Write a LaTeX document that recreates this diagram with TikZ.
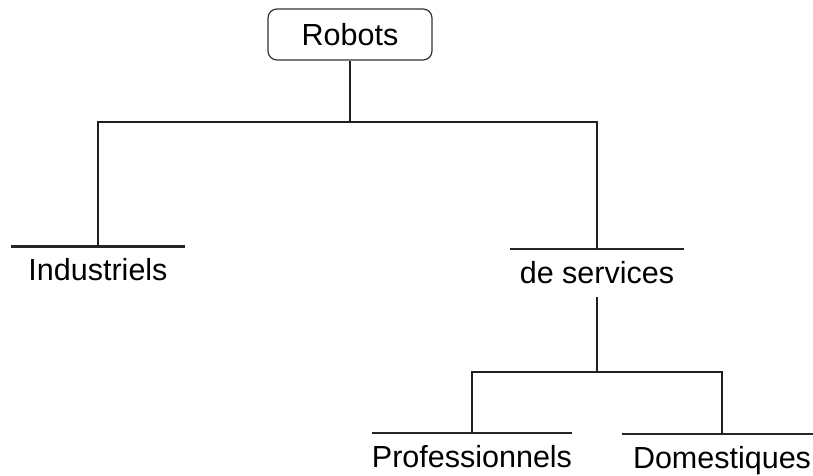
\documentclass[tikz,border=0pt]{standalone}
\usepackage{fontspec}
\setmainfont{Liberation Sans}
\begin{document}
\begin{tikzpicture}[x=1pt,y=-1pt,
  every node/.style={font=\fontsize{30.5}{36}\selectfont, text=black},
  link/.style={draw=black!88, line width=1.7pt},
  bar/.style={draw=black!85, line width=2.1pt},
  rootbox/.style={draw=black!80, line width=1.2pt, rounded corners=9pt, minimum width=164pt, minimum height=51pt, inner sep=0pt},
  leaf/.style={anchor=north, text height=22pt, text depth=2pt, inner xsep=0pt, inner ysep=12pt,
    append after command={(\tikzlastnode.north west) edge[bar] (\tikzlastnode.north east)}}
]
\useasboundingbox (0,0) rectangle (813,476);
\node[rootbox] (robots) at (350,34.5) {Robots};
\node[leaf, minimum width=174pt] (ind) at (98,246.5) {Industriels};
\node[leaf, minimum width=174pt] (serv) at (597,249) {de services};
\node[leaf, minimum width=199pt] (pro) at (472,433) {Professionnels};
\node[leaf, minimum width=200pt] (dom) at (722,434) {Domestiques};
\coordinate (j1) at (350,122);
\coordinate (j2) at (597,372);
\draw[link] (robots.south) -- (j1);
\draw[link] (ind.north) |- (j1) -| (serv.north);
\draw[link] (serv.south) -- (j2);
\draw[link] (pro.north) |- (j2) -| (dom.north);
\end{tikzpicture}
\end{document}
